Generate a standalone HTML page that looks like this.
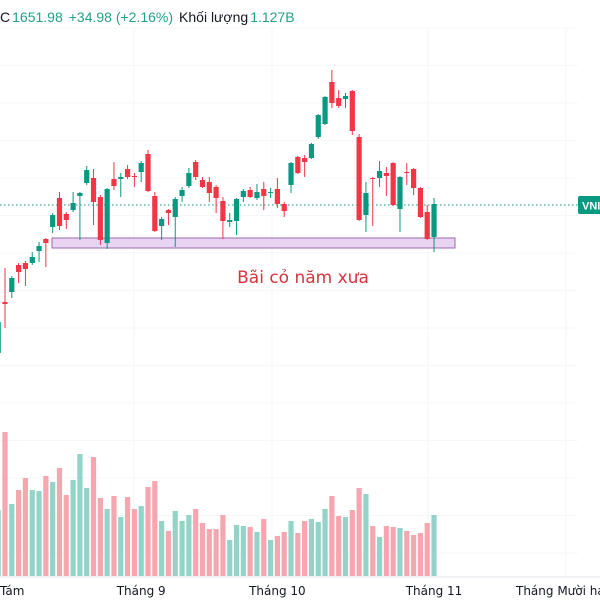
<!DOCTYPE html>
<html><head><meta charset="utf-8">
<style>
html,body{margin:0;padding:0;background:#fff;width:600px;height:600px;overflow:hidden}
svg{display:block;font-family:"Liberation Sans","DejaVu Sans",sans-serif}
</style></head>
<body>
<svg id="chart" width="600" height="600" viewBox="0 0 600 600">
  <g id="grid"></g>
  <g id="vols"></g>
  <line x1="0" y1="205" x2="578" y2="205" stroke="#089981" stroke-width="1" stroke-dasharray="1.5,2.5"/>
  <rect x="52" y="238" width="403" height="10" fill="#ead4f3" stroke="#9a6aae" stroke-width="1"/>
  <g id="candles"></g>
  <text x="303" y="283" font-size="17" fill="#d7333f" text-anchor="middle" style="font-family:'DejaVu Sans',sans-serif">Bãi cỏ năm xưa</text>
  <rect x="578" y="196" width="26" height="18" rx="2" fill="#089981"/>
  <text x="582" y="209.5" font-size="11" font-weight="bold" fill="#fff">VNI</text>
  <text x="0" y="22" font-size="14"><tspan fill="#131722">C</tspan><tspan fill="#22a08a" dx="2">1651.98</tspan><tspan fill="#22a08a" dx="6">+34.98 (+2.16%)</tspan><tspan fill="#131722" dx="6">Khối lượng</tspan><tspan fill="#22a08a" dx="2">1.127B</tspan></text>
  <g id="xaxis"></g>
</svg>
<script>
const opens  = [1504,1555,1565,1592,1594,1594,1606,1618,1630,1659,1643,1647,1661,1674,1679,1660,1614,1678,1678,1688,1681,1685,1703,1661,1631,1647,1640,1661,1671,1695,1677,1675,1670,1656,1635,1636,1660,1667,1659,1668,1664,1668,1653,1672,1700,1699,1699,1720,1733,1775,1759,1758,1766,1720,1642,1679,1679,1684,1694,1648,1685,1688,1669,1645,1620];
const highs  = [1542,1589,1581,1594,1596,1605,1615,1619,1644,1665,1645,1665,1665,1691,1688,1662,1669,1695,1684,1692,1684,1696,1707,1665,1640,1648,1660,1670,1689,1697,1680,1680,1672,1660,1644,1659,1668,1670,1673,1675,1669,1679,1655,1695,1701,1702,1714,1743,1761,1787,1767,1764,1767,1723,1675,1680,1696,1690,1695,1681,1694,1689,1670,1652,1659];
const lows   = [1497,1529,1559,1574,1571,1592,1595,1590,1624,1627,1628,1645,1617,1672,1632,1612,1608,1667,1660,1678,1670,1675,1665,1625,1617,1632,1610,1655,1669,1677,1669,1655,1644,1618,1630,1622,1655,1659,1657,1647,1659,1649,1640,1664,1683,1680,1698,1718,1732,1749,1749,1749,1722,1636,1625,1631,1670,1661,1651,1625,1672,1662,1639,1617,1605];
const closes = [1535,1553,1579,1585,1588,1600,1611,1614,1642,1631,1637,1654,1664,1687,1655,1617,1668,1671,1680,1680,1680,1694,1666,1626,1638,1644,1658,1667,1684,1680,1670,1664,1659,1636,1637,1658,1666,1660,1665,1661,1665,1653,1646,1694,1684,1695,1713,1742,1760,1754,1751,1761,1726,1637,1664,1678,1686,1681,1652,1680,1684,1669,1640,1618,1653];
const volumes = [660,1440,720,860,980,860,850,1000,940,1080,810,960,1220,880,1190,780,670,800,590,790,670,700,890,950,550,450,650,550,610,670,530,470,470,610,360,510,500,490,440,570,360,400,440,550,430,550,570,540,670,800,600,590,660,880,820,500,390,500,490,480,450,410,430,530,610];
const xTickLabels = ["Tám","Tháng 9","Tháng 10","Tháng 11","Tháng Mười hai"];
const xTickIdx = [0.7,21,41,64,78];

const NS="http://www.w3.org/2000/svg";
function xPos(i){return 5+6.81*(i-1);}
function yPrice(p){return 1857-p;}
function vHeight(v){return v/10;}
const VBASE=576;

const grid=document.getElementById('grid');
for(let k=0;k<15;k++){
  const y=553-37.5*k; if(y<28)break;
  const l=document.createElementNS(NS,'line');
  l.setAttribute('x1',0);l.setAttribute('x2',578);l.setAttribute('y1',y);l.setAttribute('y2',y);
  l.setAttribute('stroke','#f6f7f9');
  
  
  grid.appendChild(l);
}
[134,272,428,566].forEach(x=>{
  const l=document.createElementNS(NS,'line');
  l.setAttribute('x1',x);l.setAttribute('x2',x);l.setAttribute('y1',28);l.setAttribute('y2',576);
  l.setAttribute('stroke','#f3f4f6');
  
  
  grid.appendChild(l);
});

const vg=document.getElementById('vols');
const cg=document.getElementById('candles');
for(let i=0;i<opens.length;i++){
  const up=closes[i]>=opens[i];
  const x=xPos(i);
  const h=vHeight(volumes[i]);
  const vb=document.createElementNS(NS,'rect');
  vb.setAttribute('x',x-2.6);vb.setAttribute('width',5.2);
  vb.setAttribute('y',VBASE-h);vb.setAttribute('height',h);
  vb.setAttribute('fill',up?'#93d3c8':'#f6a6ae');
  
  
  vg.appendChild(vb);
  const col=up?'#089981':'#f23645';
  const w=document.createElementNS(NS,'line');
  w.setAttribute('x1',x);w.setAttribute('x2',x);
  w.setAttribute('y1',yPrice(highs[i]));w.setAttribute('y2',yPrice(lows[i]));
  w.setAttribute('stroke',col);w.setAttribute('stroke-width',1);
  
  
  cg.appendChild(w);
  const top=yPrice(Math.max(opens[i],closes[i]));
  const bh=Math.max(1,Math.abs(opens[i]-closes[i]));
  const b=document.createElementNS(NS,'rect');
  b.setAttribute('x',x-2.6);b.setAttribute('width',5.2);
  b.setAttribute('y',top);b.setAttribute('height',bh);
  b.setAttribute('fill',col);
  
  
  cg.appendChild(b);
}

const xa=document.getElementById('xaxis');
const al=document.createElementNS(NS,'line');
al.setAttribute('x1',0);al.setAttribute('x2',600);al.setAttribute('y1',577);al.setAttribute('y2',577);
al.setAttribute('stroke','#e0e3eb');


xa.appendChild(al);
xTickLabels.forEach((t,k)=>{
  const tx=document.createElementNS(NS,'text');
  tx.textContent=t;
  const x=xPos(xTickIdx[k]);
  tx.setAttribute('x',k===0?0:(k===4?516:x));
  tx.setAttribute('y',595);
  tx.setAttribute('font-size',12);
  tx.setAttribute('fill','#131722');
  tx.setAttribute('style',"font-family:'DejaVu Sans',sans-serif");
  tx.setAttribute('text-anchor',(k===0||k===4)?'start':'middle');
  
  
  xa.appendChild(tx);
});
</script>
</body></html>
